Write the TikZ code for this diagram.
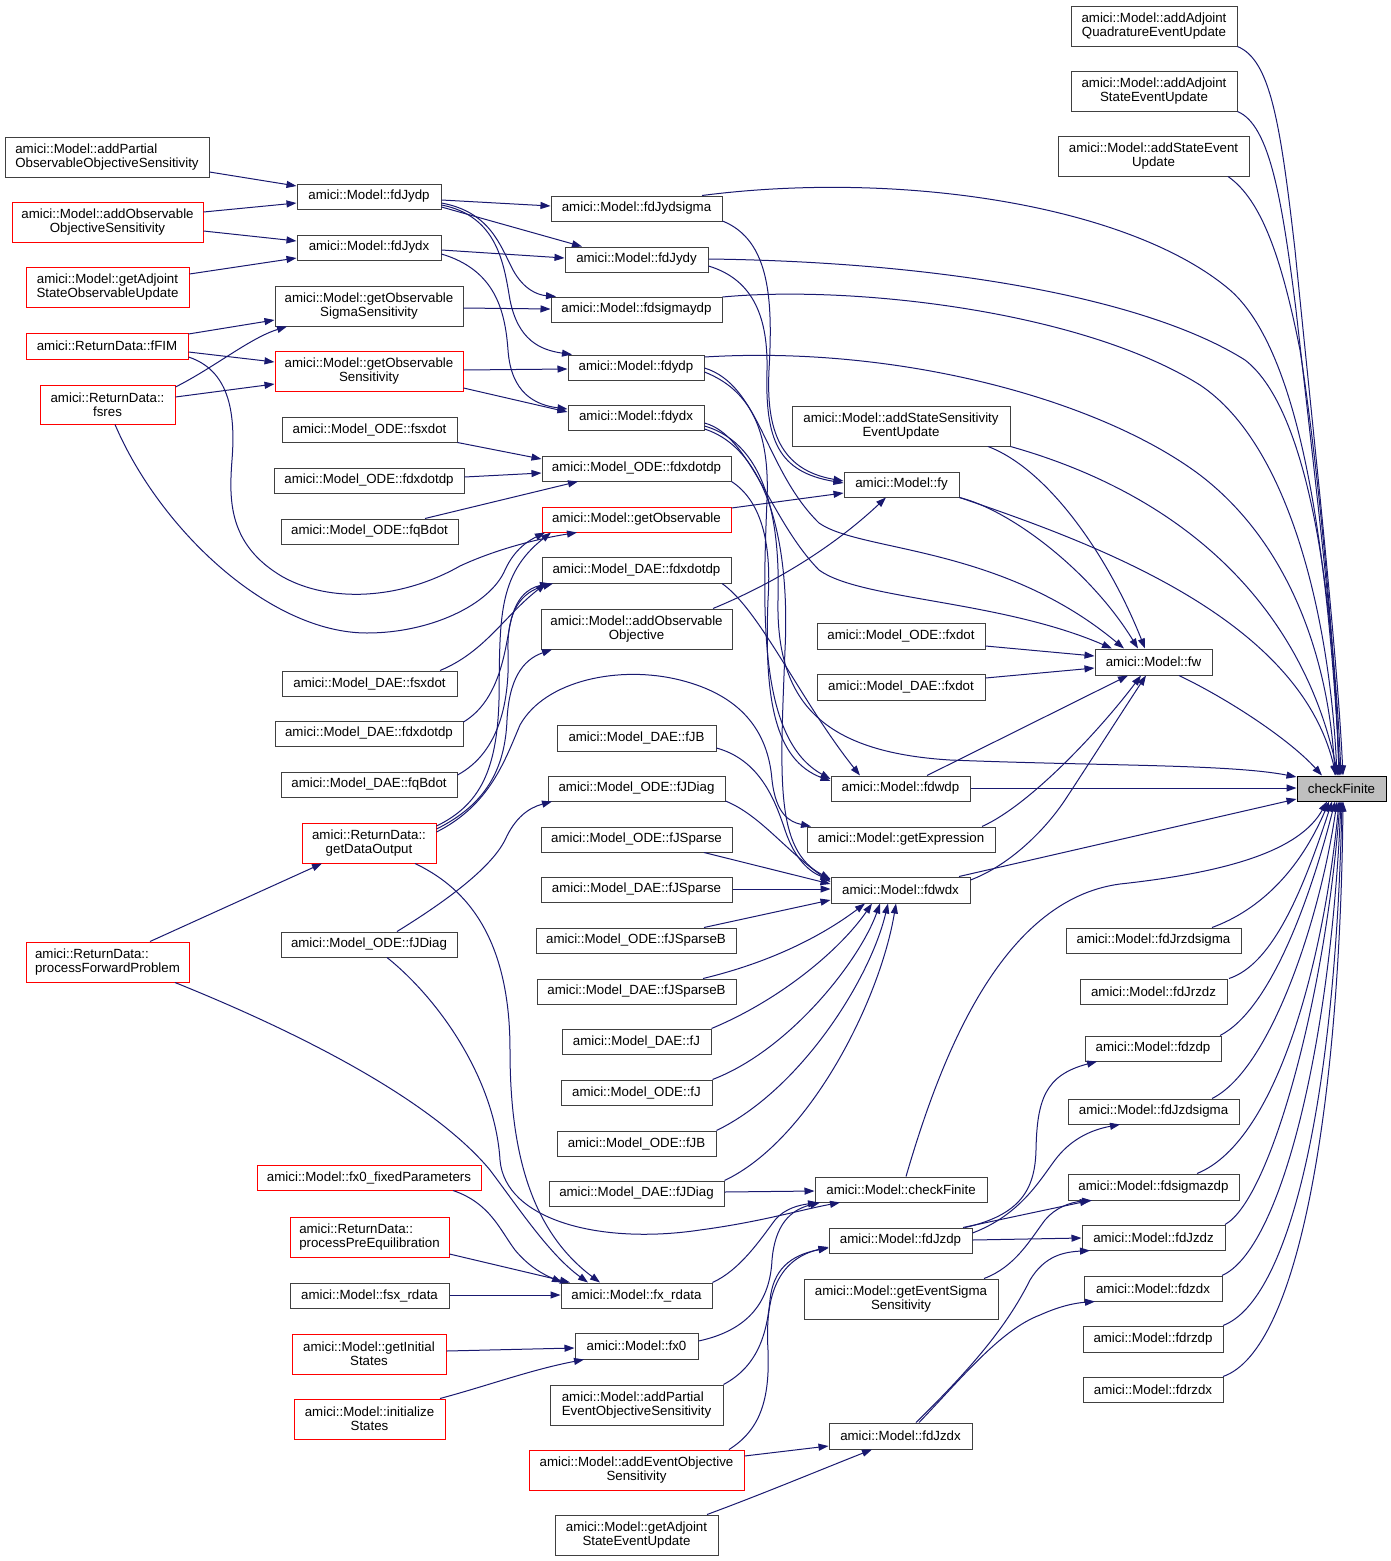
\documentclass[tikz,border=0pt]{standalone}
\usepackage{fontspec}
\setmainfont{Liberation Sans}
\usetikzlibrary{arrows.meta}
\definecolor{edgec}{HTML}{191970}
\definecolor{bord}{HTML}{404040}
\definecolor{rootf}{HTML}{BFBFBF}
\tikzset{
  box/.style={draw=bord, line width=1pt, inner sep=0pt, fill=white, align=center,
    font=\fontsize{13.3}{14}\selectfont},
  trunc/.style={draw=red},
  rootn/.style={draw=black, fill=rootf},
  lft/.style={align=left},
  edge/.style={draw=edgec, line width=1pt, -{Triangle[length=10pt,width=7pt]}},
}
\newcommand{\bx}[7]{\node[box,#6,minimum width=#4pt-#2pt,minimum height=#5pt-#3pt] (#1) at ({(#2+#4)/2},{(#3+#5)/2}) {#7};}
\begin{document}
\begin{tikzpicture}[x=1pt,y=-1pt]
\useasboundingbox[fill=white] (0,0) rectangle (1391,1561);
% right column
\bx{qeu}{1071}{6}{1237}{46}{}{amici::Model::addAdjoint\\QuadratureEventUpdate}
\bx{seu}{1071}{71}{1237}{111}{}{amici::Model::addAdjoint\\StateEventUpdate}
\bx{aseu}{1058}{136}{1249}{176}{}{amici::Model::addStateEvent\\Update}
\bx{cf}{1297}{776}{1386}{801}{rootn}{checkFinite}
\bx{jrzs}{1066}{928}{1241}{953}{}{amici::Model::fdJrzdsigma}
\bx{jrzz}{1080}{979}{1227}{1004}{}{amici::Model::fdJrzdz}
\bx{zdp}{1085}{1036}{1221}{1061}{}{amici::Model::fdzdp}
\bx{jzs}{1068}{1099}{1239}{1124}{}{amici::Model::fdJzdsigma}
\bx{szdp}{1068}{1174}{1239}{1200}{}{amici::Model::fdsigmazdp}
\bx{jzz}{1082}{1225}{1225}{1250}{}{amici::Model::fdJzdz}
\bx{zdx}{1084}{1276}{1222}{1301}{}{amici::Model::fdzdx}
\bx{rzdp}{1083}{1326}{1223}{1352}{}{amici::Model::fdrzdp}
\bx{rzdx}{1083}{1377}{1223}{1402}{}{amici::Model::fdrzdx}
% right-middle column
\bx{asse}{792}{406}{1010}{446}{}{amici::Model::addStateSensitivity\\EventUpdate}
\bx{fy}{844}{472}{959}{497}{}{amici::Model::fy}
\bx{oxdot}{817}{623}{985}{649}{}{amici::Model\_ODE::fxdot}
\bx{dxdot}{817}{674}{985}{700}{}{amici::Model\_DAE::fxdot}
\bx{fw}{1095}{649}{1212}{675}{}{amici::Model::fw}
\bx{dwdp}{831}{776}{970}{801}{}{amici::Model::fdwdp}
\bx{gexp}{807}{827}{995}{852}{}{amici::Model::getExpression}
\bx{dwdx}{831}{877}{970}{903}{}{amici::Model::fdwdx}
\bx{mcf}{815}{1177}{987}{1202}{}{amici::Model::checkFinite}
\bx{jzdp}{829}{1228}{972}{1253}{}{amici::Model::fdJzdp}
\bx{gess}{804}{1279}{998}{1319}{}{amici::Model::getEventSigma\\Sensitivity}
\bx{jzdx}{829}{1423}{972}{1449}{}{amici::Model::fdJzdx}
% middle column
\bx{jys}{551}{196}{722}{221}{}{amici::Model::fdJydsigma}
\bx{jyy}{565}{247}{708}{272}{}{amici::Model::fdJydy}
\bx{sydp}{551}{297}{722}{322}{}{amici::Model::fdsigmaydp}
\bx{ydp}{568}{355}{704}{380}{}{amici::Model::fdydp}
\bx{ydx}{568}{405}{704}{430}{}{amici::Model::fdydx}
\bx{oxdp}{542}{456}{731}{481}{}{amici::Model\_ODE::fdxdotdp}
\bx{gobs}{542}{507}{731}{532}{trunc}{amici::Model::getObservable}
\bx{dxdp}{542}{557}{731}{583}{}{amici::Model\_DAE::fdxdotdp}
\bx{aoo}{541}{609}{732}{649}{}{amici::Model::addObservable\\Objective}
\bx{djb}{557}{725}{716}{751}{}{amici::Model\_DAE::fJB}
\bx{ojd}{548}{776}{725}{801}{}{amici::Model\_ODE::fJDiag}
\bx{ojs}{541}{827}{732}{852}{}{amici::Model\_ODE::fJSparse}
\bx{djs}{541}{877}{732}{902}{}{amici::Model\_DAE::fJSparse}
\bx{ojsb}{536}{928}{736}{953}{}{amici::Model\_ODE::fJSparseB}
\bx{djsb}{537}{979}{736}{1004}{}{amici::Model\_DAE::fJSparseB}
\bx{dj}{562}{1029}{711}{1054}{}{amici::Model\_DAE::fJ}
\bx{oj}{561}{1080}{712}{1105}{}{amici::Model\_ODE::fJ}
\bx{ojb}{557}{1131}{716}{1156}{}{amici::Model\_ODE::fJB}
\bx{djd}{549}{1181}{724}{1206}{}{amici::Model\_DAE::fJDiag}
\bx{xrd}{561}{1283}{712}{1308}{}{amici::Model::fx\_rdata}
\bx{fxz}{575}{1333}{698}{1359}{}{amici::Model::fx0}
\bx{apeo}{550}{1385}{723}{1425}{lft}{amici::Model::addPartial\\EventObjectiveSensitivity}
\bx{aeos}{529}{1450}{744}{1490}{trunc}{amici::Model::addEventObjective\\Sensitivity}
\bx{gaseu}{555}{1515}{718}{1555}{}{amici::Model::getAdjoint\\StateEventUpdate}
% left-middle column
\bx{jydp}{297}{184}{441}{209}{}{amici::Model::fdJydp}
\bx{jydx}{297}{235}{441}{260}{}{amici::Model::fdJydx}
\bx{goss}{275}{286}{463}{326}{}{amici::Model::getObservable\\SigmaSensitivity}
\bx{gos}{275}{351}{463}{391}{trunc}{amici::Model::getObservable\\Sensitivity}
\bx{osx}{282}{417}{457}{442}{}{amici::Model\_ODE::fsxdot}
\bx{oxdpl}{274}{468}{464}{493}{}{amici::Model\_ODE::fdxdotdp}
\bx{oqb}{281}{519}{458}{544}{}{amici::Model\_ODE::fqBdot}
\bx{dsx}{282}{671}{457}{696}{}{amici::Model\_DAE::fsxdot}
\bx{dxdpl}{275}{721}{463}{746}{}{amici::Model\_DAE::fdxdotdp}
\bx{dqb}{281}{772}{457}{797}{}{amici::Model\_DAE::fqBdot}
\bx{gdo}{302}{823}{436}{863}{trunc}{amici::ReturnData::\\getDataOutput}
\bx{ojdl}{281}{932}{457}{957}{}{amici::Model\_ODE::fJDiag}
\bx{xzfp}{257}{1165}{481}{1190}{trunc}{amici::Model::fx0\_fixedParameters}
\bx{ppe}{290}{1217}{449}{1257}{trunc,lft}{amici::ReturnData::\\processPreEquilibration}
\bx{sxrd}{290}{1283}{449}{1308}{}{amici::Model::fsx\_rdata}
\bx{gis}{292}{1334}{446}{1374}{trunc}{amici::Model::getInitial\\States}
\bx{ins}{294}{1399}{445}{1439}{trunc}{amici::Model::initialize\\States}
% left column
\bx{apoo}{5}{137}{209}{177}{lft}{amici::Model::addPartial\\ObservableObjectiveSensitivity}
\bx{aoos}{12}{202}{203}{242}{trunc}{amici::Model::addObservable\\ObjectiveSensitivity}
\bx{gasou}{26}{267}{189}{307}{trunc}{amici::Model::getAdjoint\\StateObservableUpdate}
\bx{fim}{26}{333}{188}{359}{trunc}{amici::ReturnData::fFIM}
\bx{fsres}{40}{385}{175}{424}{trunc}{amici::ReturnData::\\fsres}
\bx{pfp}{26}{942}{189}{982}{trunc,lft}{amici::ReturnData::\\processForwardProblem}

% ---------- edges: left part
\draw[edge] (apoo.east |- 0,172) -- (jydp.west |- 0,186);
\draw[edge] (aoos.east |- 0,212) -- (jydp.west |- 0,203);
\draw[edge] (aoos.east |- 0,231) -- (jydx.west |- 0,241);
\draw[edge] (gasou.east |- 0,274) -- (jydx.west |- 0,258);
\draw[edge] (fim.east |- 0,334) -- (goss.west |- 0,320);
\draw[edge] (fim.east |- 0,352) -- (gos.west |- 0,362);
\draw[edge] (fsres.east |- 0,387) .. controls (215,367) and (250,338) .. (goss.south -| 287,0);
\draw[edge] (fsres.east |- 0,397) -- (gos.west |- 0,384);
\draw[edge] (fim.east |- 0,357) .. controls (228,370) and (236,410) .. (232,460) .. controls (229,500) and (228,545) .. (283,577) .. controls (330,603) and (400,600) .. (460,566) .. controls (490,552) and (530,540) .. (gobs.south -| 577,0);
\draw[edge] (fsres.south -| 115,0) .. controls (160,530) and (270,633) .. (367,633) .. controls (430,633) and (490,605) .. (505,570) .. controls (515,548) and (530,540) .. (gobs.south -| 545,0);
\draw[edge] (gdo.east |- 0,826) .. controls (480,805) and (497,770) .. (499,700) .. controls (500,620) and (497,575) .. (gobs.south -| 551,0);
\draw[edge] (gdo.east |- 0,829) .. controls (485,805) and (505,770) .. (507,720) .. controls (509,680) and (522,660) .. (aoo.south -| 552,0);
\draw[edge] (gdo.east |- 0,832) .. controls (490,805) and (505,760) .. (520,725) .. controls (545,680) and (620,665) .. (680,680) .. controls (740,695) and (768,730) .. (772,780) .. controls (776,815) and (790,822) .. (gexp.north -| 811,0);
% ODE / DAE fdxdotdp
\draw[edge] (osx.south east) -- (oxdp.west |- 0,459);
\draw[edge] (oxdpl.east |- 0,477) -- (oxdp.west |- 0,473);
\draw[edge] (oqb.north -| 425,0) -- (oxdp.south -| 578,0);
\draw[edge] (dsx.north -| 440,0) .. controls (485,652) and (505,615) .. (dxdp.south -| 546,0);
\draw[edge] (dxdpl.east |- 0,722) .. controls (500,700) and (505,650) .. (510,625) .. controls (515,598) and (528,588) .. (dxdp.south -| 550,0);
\draw[edge] (dqb.east |- 0,775) .. controls (500,752) and (510,700) .. (508,650) .. controls (507,610) and (522,592) .. (dxdp.south -| 553,0);
\draw[edge] (ojdl.north -| 397,0) .. controls (440,905) and (490,870) .. (505,840) .. controls (515,818) and (528,808) .. (ojd.south -| 552,0);
% fdJydp / fdJydx
\draw[edge] (jydp.east |- 0,200) -- (jys.west |- 0,206);
\draw[edge] (jydp.east |- 0,207) -- (jyy.north -| 582,0);
\draw[edge] (jydp.east |- 0,203) .. controls (490,212) and (500,245) .. (513,270) .. controls (524,290) and (538,295) .. (sydp.north -| 556,0);
\draw[edge] (jydp.east |- 0,205) .. controls (498,216) and (504,265) .. (510,300) .. controls (518,340) and (540,350) .. (ydp.north -| 572,0);
\draw[edge] (jydx.east |- 0,250) -- (jyy.west |- 0,258);
\draw[edge] (jydx.east |- 0,254) .. controls (495,270) and (505,310) .. (508,350) .. controls (511,393) and (535,405) .. (ydx.west |- 0,409);
\draw[edge] (goss.east |- 0,308) -- (sydp.west |- 0,309);
\draw[edge] (gos.east |- 0,370) -- (ydp.west |- 0,369);
\draw[edge] (gos.east |- 0,388) -- (ydx.west |- 0,412);
% into fy
\draw[edge] (jys.east |- 0,221) .. controls (770,240) and (773,300) .. (769,370) .. controls (766,430) and (780,470) .. (fy.west |- 0,481);
\draw[edge] (jyy.east |- 0,266) .. controls (755,280) and (768,320) .. (767,370) .. controls (765,440) and (778,472) .. (fy.west |- 0,483);
\draw[edge] (gobs.east |- 0,508) -- (fy.west |- 0,493);
\draw[edge] (aoo.north -| 713,0) .. controls (770,585) and (830,550) .. (fy.south -| 886,0);
% into checkFinite (top)
\draw[edge] (qeu.south east) .. controls (1270,60) and (1280,120) .. (1295,250) .. controls (1315,450) and (1337,650) .. (cf.north -| 1343,0);
\draw[edge] (seu.south east) .. controls (1270,125) and (1282,200) .. (1296,310) .. controls (1314,470) and (1336,650) .. (cf.north -| 1341,0);
\draw[edge] (aseu.south -| 1228,0) .. controls (1262,200) and (1282,260) .. (1300,350) .. controls (1320,480) and (1335,650) .. (cf.north -| 1339,0);
\draw[edge] (jys.north -| 702,0) .. controls (900,170) and (1130,205) .. (1230,290) .. controls (1310,360) and (1330,600) .. (cf.north -| 1340,0);
\draw[edge] (jyy.east |- 0,259) .. controls (950,262) and (1150,300) .. (1245,360) .. controls (1310,410) and (1334,600) .. (cf.north -| 1339,0);
\draw[edge] (sydp.east |- 0,297) .. controls (850,285) and (1080,310) .. (1200,385) .. controls (1290,445) and (1330,620) .. (cf.north -| 1337,0);
\draw[edge] (ydp.east |- 0,357) .. controls (900,345) and (1100,400) .. (1200,475) .. controls (1285,540) and (1328,650) .. (cf.north -| 1335,0);
\draw[edge] (asse.south east) .. controls (1200,500) and (1305,620) .. (cf.north -| 1338,0);
\draw[edge] (fy.south east) .. controls (1100,545) and (1300,620) .. (cf.north -| 1336,0);
% into fw
\draw[edge] (fy.south east) .. controls (1010,510) and (1090,570) .. (fw.north -| 1138,0);
\draw[edge] (asse.south -| 988,0) .. controls (1050,470) and (1110,560) .. (fw.north -| 1145,0);
\draw[edge] (ydp.east |- 0,368) .. controls (760,385) and (765,470) .. (819,523) .. controls (860,552) and (1000,545) .. (fw.north -| 1124,0);
\draw[edge] (ydx.east |- 0,423) .. controls (750,435) and (770,520) .. (819,570) .. controls (860,600) and (1000,600) .. (fw.north -| 1112,0);
\draw[edge] (oxdot.east |- 0,646) -- (fw.west |- 0,656);
\draw[edge] (dxdot.east |- 0,678) -- (fw.west |- 0,668);
\draw[edge] (dwdp.north -| 927,0) -- (fw.south -| 1128,0);
\draw[edge] (gexp.north -| 982,0) .. controls (1030,805) and (1100,730) .. (fw.south -| 1141,0);
\draw[edge] (dwdx.east |- 0,880) .. controls (1010,865) and (1045,830) .. (1065,800) .. controls (1090,762) and (1122,712) .. (fw.south -| 1146,0);
% fw, fdwdp, fdwdx -> checkFinite
\draw[edge] (fw.south -| 1179,0) .. controls (1230,700) and (1290,740) .. (cf.north -| 1322,0);
\draw[edge] (dwdp.east |- 0,788) -- (cf.west |- 0,788);
\draw[edge] (dwdx.north -| 959,0) -- (cf.west |- 0,799);
\draw[edge] (ydx.east |- 0,426) .. controls (770,445) and (780,530) .. (778,600) .. controls (776,700) and (820,752) .. (950,760) .. controls (1100,766) and (1230,764) .. (cf.west |- 0,777);
% into fdwdp
\draw[edge] (ydp.east |- 0,372) .. controls (750,390) and (770,430) .. (767,500) .. controls (762,620) and (760,740) .. (dwdp.west |- 0,779);
\draw[edge] (oxdp.south east) .. controls (760,500) and (772,540) .. (768,600) .. controls (764,700) and (775,760) .. (dwdp.west |- 0,781);
\draw[edge] (dxdp.south -| 722,0) .. controls (760,610) and (800,700) .. (dwdp.north -| 860,0);
% into fdwdx
\draw[edge] (ydx.east |- 0,429) .. controls (770,450) and (790,550) .. (785,650) .. controls (780,780) and (775,850) .. (dwdx.west |- 0,879);
\draw[edge] (djb.east |- 0,748) .. controls (760,760) and (775,800) .. (785,830) .. controls (795,860) and (810,872) .. (dwdx.west |- 0,880);
\draw[edge] (ojd.east |- 0,801) .. controls (760,815) and (785,850) .. (dwdx.west |- 0,882);
\draw[edge] (ojs.south -| 704,0) -- (dwdx.west |- 0,884);
\draw[edge] (djs.east |- 0,889) -- (dwdx.west |- 0,889);
\draw[edge] (ojsb.north -| 704,0) -- (dwdx.west |- 0,900);
\draw[edge] (djsb.north -| 703,0) .. controls (780,960) and (830,930) .. (dwdx.south -| 865,0);
\draw[edge] (dj.north east) .. controls (780,1000) and (840,950) .. (dwdx.south -| 872,0);
\draw[edge] (oj.north east) .. controls (790,1050) and (860,960) .. (dwdx.south -| 880,0);
\draw[edge] (ojb.north east) .. controls (800,1090) and (870,980) .. (dwdx.south -| 888,0);
\draw[edge] (djd.north east) .. controls (810,1140) and (880,1000) .. (dwdx.south -| 896,0);
% into Model::checkFinite
\draw[edge] (djd.east |- 0,1192) -- (mcf.west |- 0,1191);
\draw[edge] (xrd.north east) .. controls (740,1270) and (760,1240) .. (775,1220) .. controls (785,1208) and (800,1205) .. (mcf.south -| 818,0);
\draw[edge] (fxz.east |- 0,1341) .. controls (750,1330) and (770,1300) .. (772,1260) .. controls (775,1225) and (790,1210) .. (mcf.south -| 820,0);
\draw[edge] (ojdl.south -| 387,0) .. controls (440,1000) and (495,1080) .. (500,1160) .. controls (505,1220) and (600,1245) .. (700,1230) .. controls (760,1222) and (800,1210) .. (mcf.south -| 840,0);
% into fx_rdata / fx0
\draw[edge] (pfp.south -| 175,0) .. controls (330,1045) and (440,1110) .. (490,1170) .. controls (520,1210) and (550,1255) .. (xrd.north -| 588,0);
\draw[edge] (gdo.south -| 415,0) .. controls (460,885) and (510,930) .. (510,1050) .. controls (510,1150) and (530,1230) .. (xrd.north -| 600,0);
\draw[edge] (pfp.north -| 150,0) -- (gdo.south -| 322,0);
\draw[edge] (xzfp.south -| 453,0) .. controls (490,1203) and (500,1230) .. (515,1250) .. controls (530,1268) and (545,1275) .. (xrd.north -| 562,0);
\draw[edge] (ppe.east |- 0,1254) -- (xrd.north -| 570,0);
\draw[edge] (sxrd.east |- 0,1295) -- (xrd.west |- 0,1295);
\draw[edge] (gis.east |- 0,1351) -- (fxz.west |- 0,1348);
\draw[edge] (ins.north -| 440,0) .. controls (490,1385) and (530,1370) .. (fxz.south -| 584,0);
% event objectives
\draw[edge] (apeo.north east) .. controls (760,1365) and (767,1330) .. (770,1300) .. controls (773,1270) and (790,1255) .. (jzdp.west |- 0,1248);
\draw[edge] (aeos.north -| 729,0) .. controls (760,1430) and (770,1400) .. (768,1350) .. controls (765,1300) and (775,1260) .. (jzdp.west |- 0,1247);
\draw[edge] (aeos.east |- 0,1456) -- (jzdx.west |- 0,1446);
\draw[edge] (gaseu.north -| 707,0) .. controls (760,1495) and (820,1470) .. (jzdx.south -| 872,0);
\draw[edge] (jzdp.north -| 965,0) .. controls (1020,1215) and (1035,1190) .. (1036,1150) .. controls (1037,1100) and (1045,1075) .. (zdp.south -| 1097,0);
\draw[edge] (jzdp.east |- 0,1233) .. controls (1020,1215) and (1040,1180) .. (1055,1160) .. controls (1070,1140) and (1090,1130) .. (jzs.south -| 1120,0);
\draw[edge] (jzdp.north -| 963,0) -- (szdp.south -| 1090,0);
\draw[edge] (jzdp.east |- 0,1240) -- (jzz.west |- 0,1238);
\draw[edge] (gess.north -| 984,0) .. controls (1015,1267) and (1030,1240) .. (1045,1220) .. controls (1055,1208) and (1070,1202) .. (szdp.south -| 1092,0);
\draw[edge] (jzdx.north -| 916,0) .. controls (980,1360) and (1010,1320) .. (1030,1280) .. controls (1045,1255) and (1065,1252) .. (jzz.south -| 1090,0);
\draw[edge] (jzdx.north -| 919,0) .. controls (960,1380) and (1000,1330) .. (1040,1315) .. controls (1060,1306) and (1075,1303) .. (zdx.south -| 1095,0);
% into checkFinite (bottom)
\draw[edge] (mcf.north -| 906,0) .. controls (940,1060) and (1000,900) .. (1120,884) .. controls (1230,872) and (1300,850) .. (cf.south -| 1327,0);
\draw[edge] (jrzs.north -| 1212,0) .. controls (1260,910) and (1300,870) .. (cf.south -| 1329,0);
\draw[edge] (jrzz.north -| 1229,0) .. controls (1270,965) and (1300,900) .. (cf.south -| 1332,0);
\draw[edge] (zdp.north -| 1220,0) .. controls (1270,1010) and (1310,900) .. (cf.south -| 1335,0);
\draw[edge] (jzs.north -| 1212,0) .. controls (1270,1070) and (1320,920) .. (cf.south -| 1337,0);
\draw[edge] (szdp.north -| 1197,0) .. controls (1280,1140) and (1325,950) .. (cf.south -| 1339,0);
\draw[edge] (jzz.north -| 1225,0) .. controls (1270,1200) and (1325,1000) .. (cf.south -| 1340,0);
\draw[edge] (zdx.north -| 1222,0) .. controls (1280,1250) and (1330,1050) .. (cf.south -| 1341,0);
\draw[edge] (rzdp.north -| 1223,0) .. controls (1290,1300) and (1335,1100) .. (cf.south -| 1342,0);
\draw[edge] (rzdx.north -| 1223,0) .. controls (1300,1350) and (1340,1100) .. (cf.south -| 1343,0);
\end{tikzpicture}
\end{document}
